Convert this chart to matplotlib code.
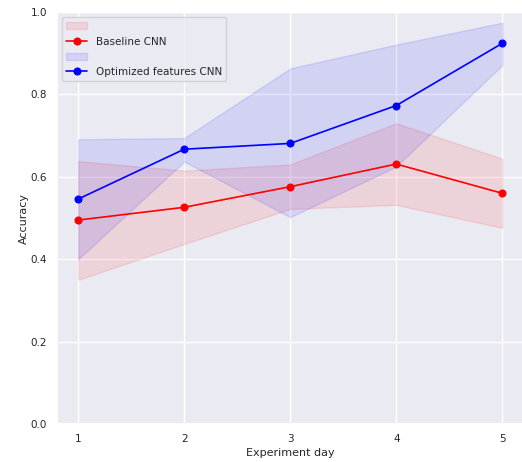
import matplotlib
matplotlib.use("Agg")
import matplotlib.pyplot as plt
import seaborn as sns

sns.set_theme(style="darkgrid")

days = [1, 2, 3, 4, 5]

# Baseline CNN
base_mean = [0.495, 0.526, 0.576, 0.631, 0.560]
base_low = [0.350, 0.437, 0.522, 0.532, 0.476]
base_high = [0.638, 0.615, 0.630, 0.730, 0.644]

# Optimized features CNN
opt_mean = [0.546, 0.667, 0.681, 0.773, 0.924]
opt_low = [0.400, 0.637, 0.502, 0.625, 0.871]
opt_high = [0.691, 0.694, 0.863, 0.921, 0.974]

fig = plt.figure(figsize=(5.22, 4.62), dpi=100)
ax = fig.add_axes([57 / 522, 38 / 462, 466.5 / 522, 412 / 462])

f1 = ax.fill_between(days, base_low, base_high, color="red", alpha=0.1)
l1, = ax.plot(days, base_mean, color="red", marker="o", markersize=4.8, linewidth=1.2)
f2 = ax.fill_between(days, opt_low, opt_high, color="blue", alpha=0.1)
l2, = ax.plot(days, opt_mean, color="blue", marker="o", markersize=4.8, linewidth=1.2)

ax.set_ylim(0, 1)
ax.set_xlim(0.8, 5.2)
ax.set_xticks(days)
ax.set_xlabel("Experiment day", fontsize=8, labelpad=3)
ax.set_ylabel("Accuracy", fontsize=8, labelpad=1.5)
ax.tick_params(labelsize=7.5, pad=1.2)

ax.legend([f1, l1, f2, l2], ["", "Baseline CNN", "", "Optimized features CNN"],
          loc="upper left", fontsize=7.5)

fig.savefig("out.png", dpi=100)
